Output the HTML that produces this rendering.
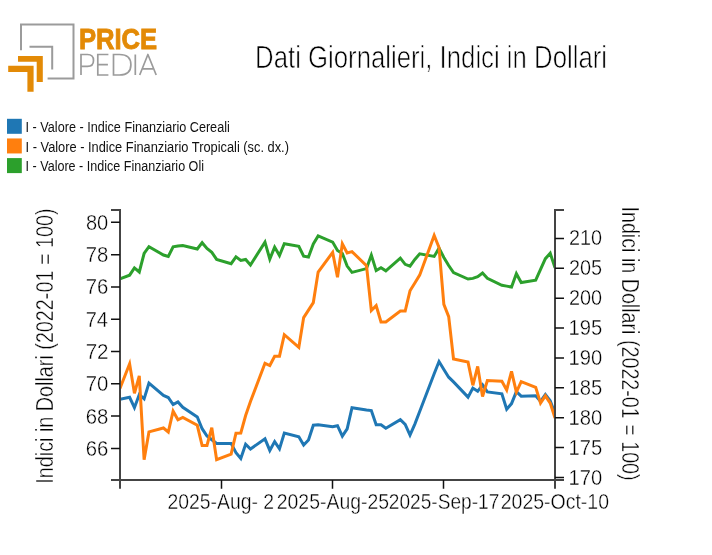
<!DOCTYPE html><html><head><meta charset="utf-8"><style>html,body{margin:0;padding:0;background:#fff;width:712px;height:555px;overflow:hidden}svg{display:block;will-change:transform}text{font-family:"Liberation Sans",sans-serif}</style></head><body>
<svg width="712" height="555" viewBox="0 0 712 555">
<rect width="712" height="555" fill="#fff"/>
<path d="M21,50.3 V24.4 H73.5 V78.4 H47.6" fill="none" stroke="#9b9b9b" stroke-width="2"/>
<path d="M29.5,46.7 H52.2 V69.5" fill="none" stroke="#9b9b9b" stroke-width="2"/>
<path d="M18,56.1 H42.8 V82 H36.7 V61.8 H18 Z" fill="#e38a06"/>
<path d="M8.2,65.7 H33.6 V91.7 H27.4 V71.9 H8.2 Z" fill="#e38a06"/>
<g fill="none" stroke="#9b9b9b" stroke-width="1.7">
<path d="M81,75 V54.5 H87.5 Q93.5,54.5 93.5,60.4 Q93.5,66.3 87.5,66.3 H81"/>
<path d="M108.4,54.5 H97.8 V75 H108.4 M97.8,64.7 H107.9"/>
<path d="M113.5,75 V54.5 H119.5 Q130.9,54.5 130.9,64.75 Q130.9,75 119.5,75 Z"/>
<path d="M135.3,54.5 V75"/>
<path stroke-linejoin="round" d="M139.7,75 L147.9,54.5 L156.2,75 M142.5,68.9 H153"/>
</g>
<rect x="7" y="118.80" width="14.8" height="15" fill="#1f77b4"/>
<rect x="7" y="138.45" width="14.8" height="15" fill="#ff7f0e"/>
<rect x="7" y="158.10" width="14.8" height="15" fill="#2ca02c"/>
<clipPath id="pc"><rect x="120" y="200" width="435" height="290"/></clipPath>
<g fill="none" stroke-width="3" stroke-linejoin="miter" clip-path="url(#pc)">
<path stroke="#2ca02c" d="M119.94,278.90 L129.61,275.20 L134.44,267.90 L139.28,272.00 L144.11,253.50 L148.95,246.70 L163.45,255.00 L168.28,256.50 L173.12,246.80 L177.95,246.10 L182.79,245.60 L197.29,249.00 L202.13,242.70 L206.96,248.50 L211.80,252.30 L216.63,259.40 L231.13,263.70 L235.97,256.90 L240.80,260.50 L245.64,259.50 L250.47,265.00 L264.98,242.10 L269.81,259.10 L274.64,247.10 L279.48,255.50 L284.31,243.70 L298.82,246.40 L303.65,256.20 L308.49,257.00 L313.32,243.90 L318.15,235.90 L332.66,242.10 L337.49,250.40 L342.33,253.50 L347.16,266.10 L352.00,272.40 L366.50,268.60 L371.33,255.10 L376.17,270.60 L381.00,267.70 L385.84,270.80 L400.34,258.10 L405.18,264.30 L410.01,266.15 L414.84,259.45 L419.68,253.85 L434.18,256.40 L439.02,248.20 L443.85,257.40 L448.69,265.50 L453.52,272.60 L468.02,279.00 L472.86,278.40 L477.69,276.60 L482.53,273.00 L487.36,278.30 L501.87,285.30 L506.70,286.10 L511.53,287.10 L516.37,273.70 L521.20,282.50 L535.71,280.20 L540.54,269.40 L545.38,258.65 L550.21,253.25 L555.05,267.90"/>
<path stroke="#1f77b4" d="M119.94,399.30 L129.61,397.30 L134.44,407.70 L139.28,394.50 L144.11,398.90 L148.95,383.10 L163.45,395.40 L168.28,397.50 L173.12,404.60 L177.95,401.90 L182.79,407.30 L197.29,416.90 L202.13,428.70 L206.96,436.00 L211.80,439.70 L216.63,443.40 L231.13,443.40 L235.97,452.60 L240.80,458.50 L245.64,444.20 L250.47,449.00 L264.98,438.85 L269.81,450.45 L274.64,441.60 L279.48,448.85 L284.31,433.15 L298.82,436.80 L303.65,445.10 L308.49,440.00 L313.32,425.20 L318.15,424.80 L332.66,426.70 L337.49,425.70 L342.33,436.10 L347.16,428.80 L352.00,407.70 L366.50,409.90 L371.33,410.50 L376.17,424.70 L381.00,424.70 L385.84,428.20 L400.34,419.70 L405.18,424.30 L410.01,435.10 L414.84,424.10 L419.68,411.50 L434.18,373.80 L439.02,361.50 L443.85,369.50 L448.69,377.20 L453.52,381.90 L468.02,397.10 L472.86,388.10 L477.69,391.30 L482.53,384.90 L487.36,391.90 L501.87,393.80 L506.70,409.20 L511.53,403.60 L516.37,391.70 L521.20,396.20 L535.71,395.80 L540.54,401.30 L545.38,394.60 L550.21,400.70 L555.05,413.80"/>
<path stroke="#ff7f0e" d="M119.94,388.50 L129.61,363.80 L134.44,393.30 L139.28,375.90 L144.11,459.70 L148.95,431.90 L163.45,428.00 L168.28,432.00 L173.12,411.20 L177.95,419.80 L182.79,417.50 L197.29,425.30 L202.13,445.60 L206.96,445.50 L211.80,427.70 L216.63,459.60 L231.13,454.10 L235.97,433.20 L240.80,433.00 L245.64,415.50 L250.47,401.50 L264.98,363.30 L269.81,365.50 L274.64,356.20 L279.48,356.20 L284.31,334.70 L298.82,347.40 L303.65,317.60 L308.49,310.10 L313.32,302.60 L318.15,272.00 L332.66,252.40 L337.49,277.30 L342.33,243.80 L347.16,252.90 L352.00,251.60 L366.50,265.80 L371.33,310.50 L376.17,305.65 L381.00,321.90 L385.84,321.90 L400.34,311.10 L405.18,311.10 L410.01,290.80 L414.84,283.00 L419.68,275.15 L434.18,235.40 L439.02,247.50 L443.85,304.30 L448.69,316.60 L453.52,358.90 L468.02,362.10 L472.86,385.30 L477.69,366.40 L482.53,396.60 L487.36,380.50 L501.87,381.20 L506.70,389.90 L511.53,371.40 L516.37,392.20 L521.20,381.60 L535.71,387.40 L540.54,403.10 L545.38,395.80 L550.21,403.10 L555.05,418.10"/>
</g>
<g fill="none" stroke="#444">
<path stroke-width="2" d="M111,210 H120 V488.7 M564,210 H555 V488.7 M111,480 H564"/>
<path stroke-width="1.5" stroke="#111" d="M111,448.40 H120 M111,416.11 H120 M111,383.82 H120 M111,351.52 H120 M111,319.23 H120 M111,286.94 H120 M111,254.65 H120 M111,222.36 H120 M555,477.50 H564 M555,447.62 H564 M555,417.74 H564 M555,387.86 H564 M555,357.98 H564 M555,328.10 H564 M555,298.22 H564 M555,268.34 H564 M555,238.46 H564 M221.5,480 V488.7 M332.5,480 V488.7 M443.5,480 V488.7"/>
</g>
<text x="78.90" y="48.60" font-weight="bold" font-size="29.2" fill="#e38a06" text-anchor="start" textLength="78.30" lengthAdjust="spacingAndGlyphs" stroke="#e38a06" stroke-width="0.9">PRICE</text>
<text x="255.08" y="67.70" font-size="31.2" fill="#000" text-anchor="start" textLength="351.93" lengthAdjust="spacingAndGlyphs" stroke="#fff" stroke-width="0.7">Dati Giornalieri, Indici in Dollari</text>
<text x="25.59" y="132.10" font-size="15.1" fill="#111" text-anchor="start" textLength="204.22" lengthAdjust="spacingAndGlyphs">I - Valore - Indice Finanziario Cereali</text>
<text x="25.59" y="151.65" font-size="15.1" fill="#111" text-anchor="start" textLength="263.36" lengthAdjust="spacingAndGlyphs">I - Valore - Indice Finanziario Tropicali (sc. dx.)</text>
<text x="25.58" y="171.20" font-size="15.1" fill="#111" text-anchor="start" textLength="178.38" lengthAdjust="spacingAndGlyphs">I - Valore - Indice Finanziario Oli</text>
<text x="108.30" y="455.80" font-size="22.8" fill="#000" text-anchor="end" textLength="22.62" lengthAdjust="spacingAndGlyphs" stroke="#fff" stroke-width="0.4">66</text>
<text x="108.30" y="423.51" font-size="22.8" fill="#000" text-anchor="end" textLength="22.62" lengthAdjust="spacingAndGlyphs" stroke="#fff" stroke-width="0.4">68</text>
<text x="108.30" y="391.22" font-size="22.8" fill="#000" text-anchor="end" textLength="22.62" lengthAdjust="spacingAndGlyphs" stroke="#fff" stroke-width="0.4">70</text>
<text x="108.58" y="358.92" font-size="22.8" fill="#000" text-anchor="end" textLength="22.91" lengthAdjust="spacingAndGlyphs" stroke="#fff" stroke-width="0.4">72</text>
<text x="108.03" y="326.63" font-size="22.8" fill="#000" text-anchor="end" textLength="22.33" lengthAdjust="spacingAndGlyphs" stroke="#fff" stroke-width="0.4">74</text>
<text x="108.30" y="294.34" font-size="22.8" fill="#000" text-anchor="end" textLength="22.62" lengthAdjust="spacingAndGlyphs" stroke="#fff" stroke-width="0.4">76</text>
<text x="108.30" y="262.05" font-size="22.8" fill="#000" text-anchor="end" textLength="22.62" lengthAdjust="spacingAndGlyphs" stroke="#fff" stroke-width="0.4">78</text>
<text x="108.29" y="229.76" font-size="22.8" fill="#000" text-anchor="end" textLength="22.33" lengthAdjust="spacingAndGlyphs" stroke="#fff" stroke-width="0.4">80</text>
<text x="568.49" y="484.50" font-size="22.8" fill="#000" text-anchor="start" textLength="33.69" lengthAdjust="spacingAndGlyphs" stroke="#fff" stroke-width="0.4">170</text>
<text x="568.48" y="454.62" font-size="22.8" fill="#000" text-anchor="start" textLength="33.70" lengthAdjust="spacingAndGlyphs" stroke="#fff" stroke-width="0.4">175</text>
<text x="568.49" y="424.74" font-size="22.8" fill="#000" text-anchor="start" textLength="33.69" lengthAdjust="spacingAndGlyphs" stroke="#fff" stroke-width="0.4">180</text>
<text x="568.48" y="394.86" font-size="22.8" fill="#000" text-anchor="start" textLength="33.70" lengthAdjust="spacingAndGlyphs" stroke="#fff" stroke-width="0.4">185</text>
<text x="568.49" y="364.98" font-size="22.8" fill="#000" text-anchor="start" textLength="33.69" lengthAdjust="spacingAndGlyphs" stroke="#fff" stroke-width="0.4">190</text>
<text x="568.48" y="335.10" font-size="22.8" fill="#000" text-anchor="start" textLength="33.70" lengthAdjust="spacingAndGlyphs" stroke="#fff" stroke-width="0.4">195</text>
<text x="568.99" y="305.22" font-size="22.8" fill="#000" text-anchor="start" textLength="33.14" lengthAdjust="spacingAndGlyphs" stroke="#fff" stroke-width="0.4">200</text>
<text x="569.00" y="275.34" font-size="22.8" fill="#000" text-anchor="start" textLength="33.14" lengthAdjust="spacingAndGlyphs" stroke="#fff" stroke-width="0.4">205</text>
<text x="568.99" y="245.46" font-size="22.8" fill="#000" text-anchor="start" textLength="33.14" lengthAdjust="spacingAndGlyphs" stroke="#fff" stroke-width="0.4">210</text>
<text x="220.75" y="508.80" font-size="22.8" fill="#000" text-anchor="middle" textLength="106.68" lengthAdjust="spacingAndGlyphs" stroke="#fff" stroke-width="0.4">2025-Aug- 2</text>
<text x="332.93" y="508.80" font-size="22.8" fill="#000" text-anchor="middle" textLength="112.31" lengthAdjust="spacingAndGlyphs" stroke="#fff" stroke-width="0.4">2025-Aug-25</text>
<text x="444.09" y="508.80" font-size="22.8" fill="#000" text-anchor="middle" textLength="110.52" lengthAdjust="spacingAndGlyphs" stroke="#fff" stroke-width="0.4">2025-Sep-17</text>
<text x="554.88" y="508.80" font-size="22.8" fill="#000" text-anchor="middle" textLength="108.25" lengthAdjust="spacingAndGlyphs" stroke="#fff" stroke-width="0.4">2025-Oct-10</text>
<text x="0" y="0" transform="translate(52.7,483.723) rotate(-90)" font-size="23" fill="#000" text-anchor="start" textLength="275.24" lengthAdjust="spacingAndGlyphs" stroke="#fff" stroke-width="0.4">Indici in Dollari (2022-01 = 100)</text>
<text x="0" y="0" transform="translate(622.1,206.475) rotate(90)" font-size="23" fill="#000" text-anchor="start" textLength="274.14" lengthAdjust="spacingAndGlyphs" stroke="#fff" stroke-width="0.4">Indici in Dollari (2022-01 = 100)</text>
</svg></body></html>
